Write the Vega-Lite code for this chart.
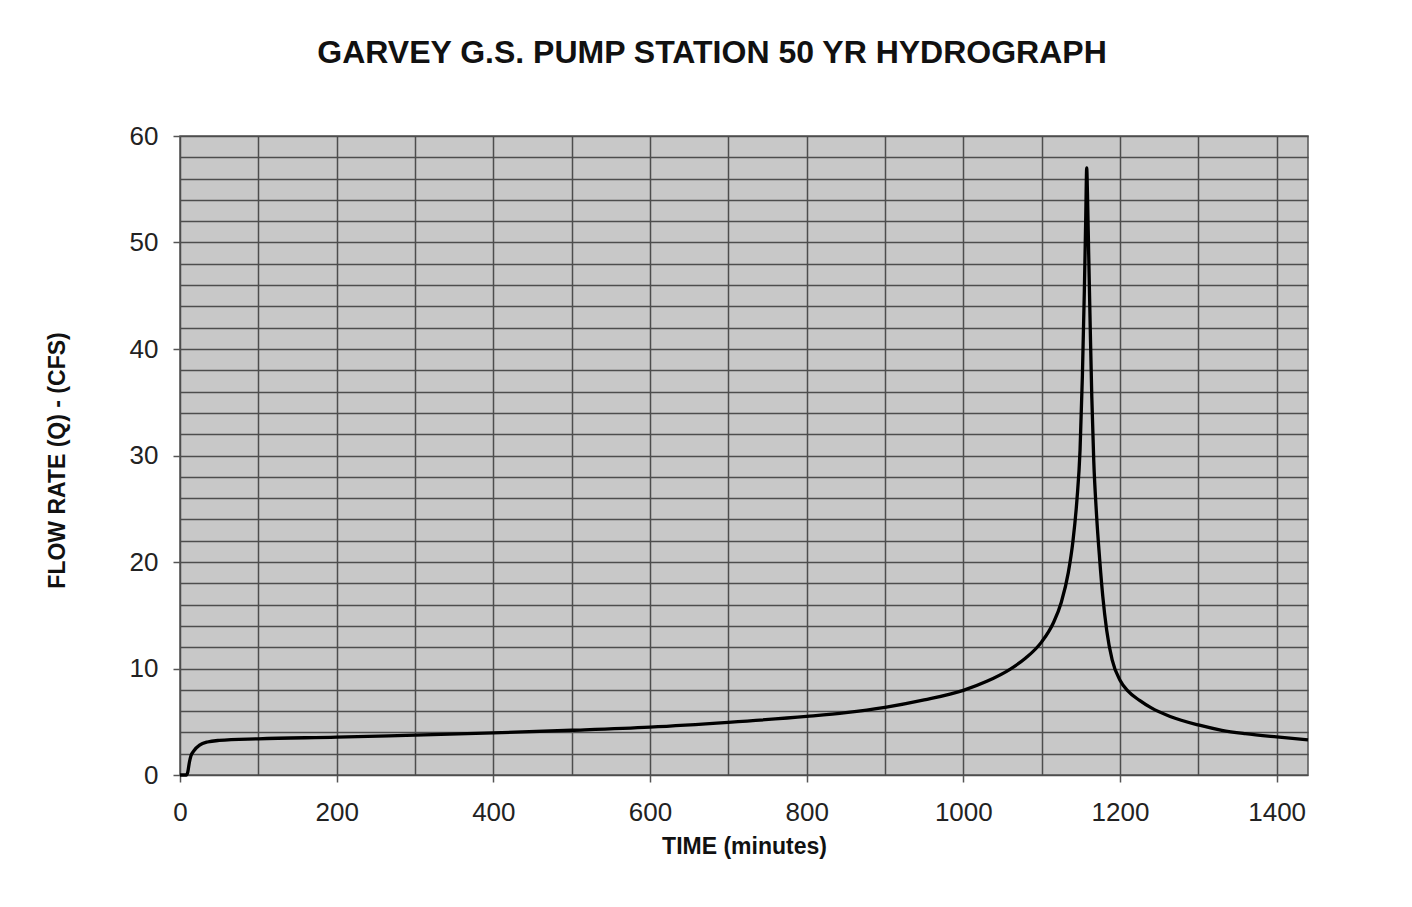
{
  "$schema": "https://vega.github.io/schema/vega-lite/v6.json",
  "width": 1128,
  "height": 639,
  "autosize": {"type": "none"},
  "padding": {"left": 180, "top": 136, "right": 104, "bottom": 132},
  "background": "white",
  "title": {
    "text": "GARVEY G.S. PUMP STATION 50 YR HYDROGRAPH",
    "font": "Liberation Sans",
    "fontSize": 32,
    "fontWeight": "bold",
    "color": "#111111",
    "anchor": "middle",
    "dx": -32,
    "dy": 43,
    "baseline": "alphabetic",
    "offset": 71
  },
  "config": {
    "view": {"fill": "#c8c8c8", "stroke": "#555555", "strokeWidth": 1.5}
  },
  "data": {
    "values": [
      {"t": 0, "q": 0},
      {"t": 8, "q": 0},
      {"t": 10, "q": 0.3},
      {"t": 12, "q": 1.2},
      {"t": 14, "q": 1.8},
      {"t": 18, "q": 2.3},
      {"t": 25, "q": 2.8},
      {"t": 35, "q": 3.1},
      {"t": 50, "q": 3.25},
      {"t": 100, "q": 3.4},
      {"t": 200, "q": 3.55},
      {"t": 300, "q": 3.75},
      {"t": 400, "q": 3.95},
      {"t": 500, "q": 4.2},
      {"t": 600, "q": 4.5},
      {"t": 700, "q": 4.95},
      {"t": 800, "q": 5.5},
      {"t": 850, "q": 5.85},
      {"t": 900, "q": 6.35},
      {"t": 950, "q": 7.05},
      {"t": 1000, "q": 7.95},
      {"t": 1030, "q": 8.8},
      {"t": 1060, "q": 9.95},
      {"t": 1080, "q": 11.0},
      {"t": 1100, "q": 12.5},
      {"t": 1115, "q": 14.3},
      {"t": 1125, "q": 16.2},
      {"t": 1134, "q": 19.0},
      {"t": 1140, "q": 22.0},
      {"t": 1145, "q": 25.8},
      {"t": 1149, "q": 30.5},
      {"t": 1152, "q": 37.5},
      {"t": 1154.5, "q": 45.5},
      {"t": 1156.3, "q": 52.5},
      {"t": 1157.5, "q": 57},
      {"t": 1158.5, "q": 54.5},
      {"t": 1160, "q": 49},
      {"t": 1162, "q": 42},
      {"t": 1164, "q": 35.5},
      {"t": 1166.5, "q": 29.5},
      {"t": 1170, "q": 24.5},
      {"t": 1174, "q": 20.3},
      {"t": 1178, "q": 16.8},
      {"t": 1183, "q": 13.6},
      {"t": 1190, "q": 10.8},
      {"t": 1200, "q": 8.9},
      {"t": 1210, "q": 7.9},
      {"t": 1225, "q": 7.0},
      {"t": 1240, "q": 6.3},
      {"t": 1264, "q": 5.5},
      {"t": 1300, "q": 4.7},
      {"t": 1330, "q": 4.2},
      {"t": 1360, "q": 3.88},
      {"t": 1400, "q": 3.57},
      {"t": 1440, "q": 3.3}
    ]
  },
  "mark": {"type": "line", "color": "#000000", "strokeWidth": 3.3, "interpolate": "monotone"},
  "encoding": {
    "x": {
      "field": "t",
      "type": "quantitative",
      "scale": {"domain": [0, 1440], "nice": false, "zero": false},
      "axis": {
        "values": [0, 100, 200, 300, 400, 500, 600, 700, 800, 900, 1000, 1100, 1200, 1300, 1400],
        "grid": true,
        "gridColor": "#4d4d4d",
        "gridWidth": 1.5,
        "gridOpacity": 1,
        "domain": false,
        "ticks": true,
        "tickSize": 7,
        "tickWidth": 1.5,
        "tickColor": "#555555",
        "tickOpacity": {"condition": {"test": "datum.value % 200 === 0", "value": 1}, "value": 0},
        "labelExpr": "datum.value % 200 === 0 ? datum.label : ''",
        "format": "d",
        "labelFont": "Liberation Sans",
        "labelFontSize": 26,
        "labelColor": "#222222",
        "labelPadding": 17,
        "labelFlush": false,
        "labelOverlap": false,
        "title": "TIME (minutes)",
        "titleFont": "Liberation Sans",
        "titleFontSize": 23,
        "titleFontWeight": "bold",
        "titleColor": "#111111",
        "titleX": 564,
        "titleY": 78,
        "titleAlign": "center",
        "titleBaseline": "alphabetic"
      }
    },
    "y": {
      "field": "q",
      "type": "quantitative",
      "scale": {"domain": [0, 60], "nice": false},
      "axis": {
        "values": [0, 2, 4, 6, 8, 10, 12, 14, 16, 18, 20, 22, 24, 26, 28, 30, 32, 34, 36, 38, 40, 42, 44, 46, 48, 50, 52, 54, 56, 58, 60],
        "grid": true,
        "gridColor": "#4d4d4d",
        "gridWidth": 1.5,
        "gridOpacity": 1,
        "domain": false,
        "ticks": true,
        "tickSize": 7,
        "tickWidth": 1.5,
        "tickColor": "#555555",
        "tickOpacity": {"condition": {"test": "datum.value % 10 === 0", "value": 1}, "value": 0},
        "labelExpr": "datum.value % 10 === 0 ? datum.label : ''",
        "format": "d",
        "labelFont": "Liberation Sans",
        "labelFontSize": 26,
        "labelColor": "#222222",
        "labelPadding": 15,
        "labelFlush": false,
        "labelOverlap": false,
        "title": "FLOW RATE (Q) - (CFS)",
        "titleFont": "Liberation Sans",
        "titleFontSize": 23,
        "titleFontWeight": "bold",
        "titleColor": "#111111",
        "titleAngle": -90,
        "titleX": -123,
        "titleY": 324,
        "titleAlign": "center",
        "titleBaseline": "middle"
      }
    }
  }
}
